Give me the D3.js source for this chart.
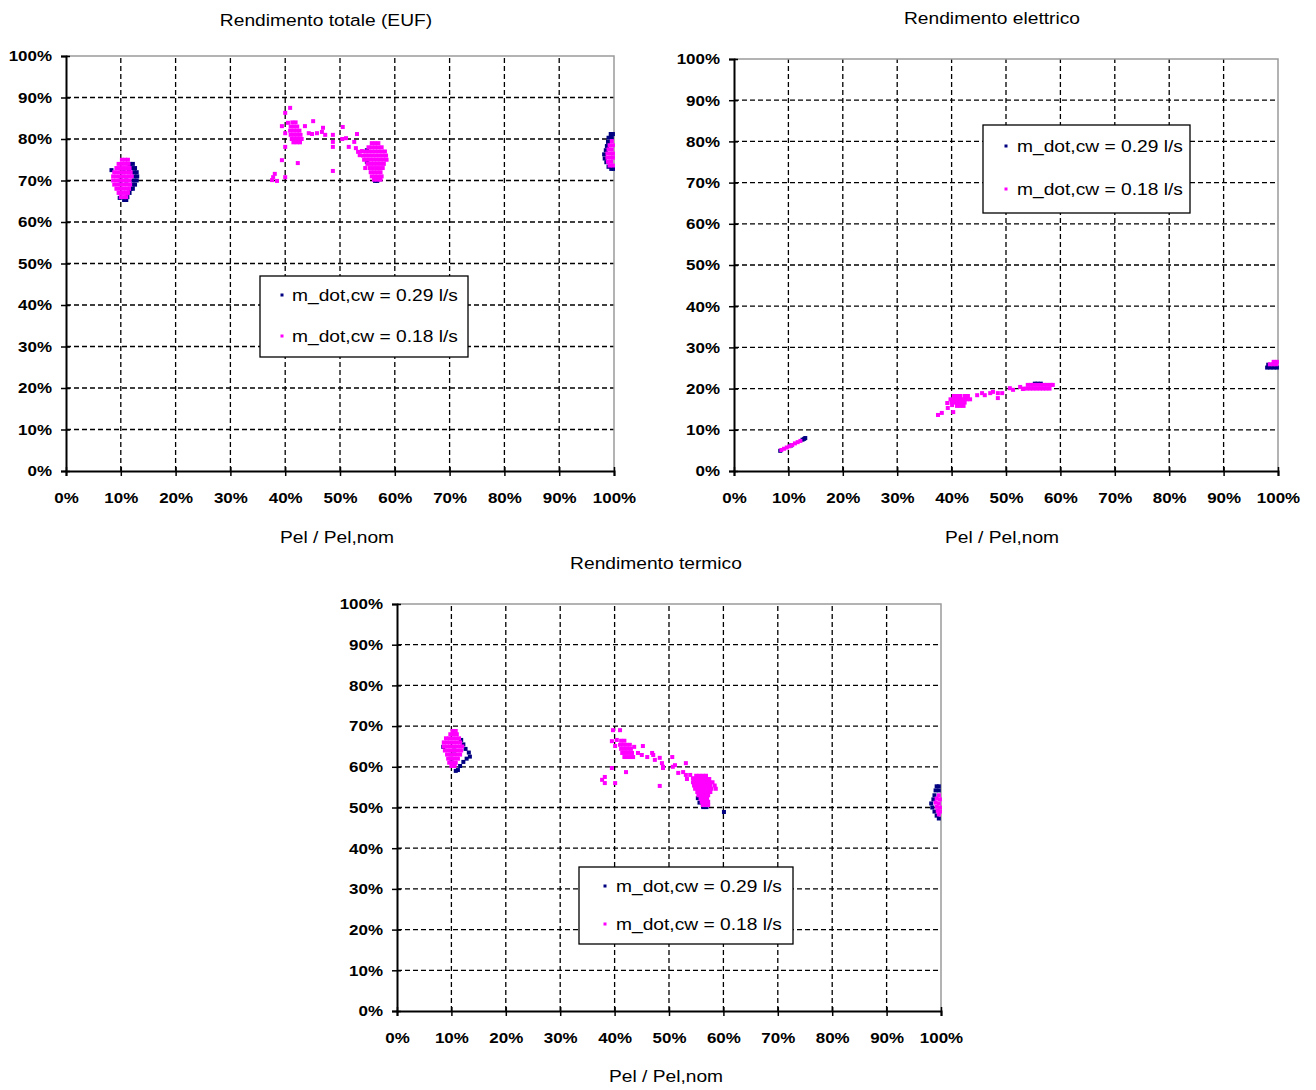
<!DOCTYPE html>
<html>
<head>
<meta charset="utf-8">
<script src="https://cdn.jsdelivr.net/npm/d3@7"></script>
<style>
  body { margin: 0; background: #fff; }
  svg text { font-family: "Liberation Sans", Arial, sans-serif; fill: #000; }
</style>
</head>
<body>
<svg id="chart" width="1316" height="1090"></svg>
<script>
// Axis ticks (percent)
const xTickValues = [0, 10, 20, 30, 40, 50, 60, 70, 80, 90, 100];
const yTickValues = [0, 10, 20, 30, 40, 50, 60, 70, 80, 90, 100];
const seriesNames = ["m_dot,cw = 0.29 l/s", "m_dot,cw = 0.18 l/s"];
const seriesColors = ["#000080", "#ff00ff"];
const titles = ["Rendimento totale (EUF)", "Rendimento elettrico", "Rendimento termico"];
const xAxisTitle = "Pel / Pel,nom";

// Measured points, one row per efficiency level: [efficiency %, load % ...]
// Rendimento totale, m_dot,cw = 0.29 l/s
const eufHigh = [
  [74, 11.6, 12.2], [73, 12.0, 12.6], [72.5, 8.3], [72, 10.5, 11.5, 12.4, 12.9], [71, 12.5, 13.0],
  [70, 10.0, 11.0, 12.3, 12.9], [69, 12.2, 12.6], [68, 11.8, 12.2], [67, 11.6], [66, 11.2],
  [65.8, 9.8], [65.3, 10.6, 11.0],
  [77.3, 54.9], [74.5, 54.9], [69.9, 56.4, 56.8],
  [81.2, 99.4, 99.8], [80.3, 99.0, 99.6], [79.3, 98.9], [78.3, 98.7], [77.3, 98.5], [76.3, 98.2],
  [75.3, 98.3], [74.4, 98.6], [73.3, 99.0], [72.8, 99.5, 99.9]
];
// Rendimento totale, m_dot,cw = 0.18 l/s
const eufLow = [
  [75, 10.2, 10.8, 11.3], [74, 9.6, 10.2, 10.8, 11.4], [73, 9.2, 9.8, 10.4, 11.0, 11.6],
  [72, 8.8, 9.4, 10.0, 10.6, 11.2, 11.8], [71, 8.6, 9.2, 9.8, 10.4, 11.0, 11.6, 12.0],
  [70, 8.6, 9.2, 9.8, 10.4, 11.0, 11.6], [69, 8.8, 9.4, 10.0, 10.6, 11.2, 11.7],
  [68, 9.2, 9.8, 10.4, 11.0, 11.5], [67, 9.6, 10.2, 10.8, 11.3], [66, 10.0, 10.6, 11.0],
  [84, 41.3, 41.9], [83, 41.0, 41.6, 42.2], [82, 40.9, 41.5, 42.1, 42.6], [81, 41.0, 41.6, 42.2, 42.8],
  [80, 41.2, 41.8, 42.4, 43.0], [79.2, 41.5, 42.1, 42.7],
  [87.5, 40.9], [86.3, 40.0], [83.9, 40.5], [83.1, 39.4, 43.6], [84.3, 45.1], [81.4, 40.0, 44.3, 45.8],
  [81.2, 44.9, 53.1], [81.7, 46.7], [81.0, 47.3, 48.7], [82.7, 46.9], [79.3, 48.7, 52.6],
  [78.1, 40.0, 48.7, 51.6], [82.9, 50.5], [80.2, 51.1], [80.0, 50.4], [77.8, 52.9], [76.9, 53.3],
  [77.1, 54.0], [76.1, 53.6], [73.0, 54.6], [72.3, 48.7], [74.2, 42.3], [74.9, 39.4],
  [70.8, 37.8, 40.0], [71.6, 38.1], [70.1, 37.6], [69.9, 38.5],
  [79, 55.8, 56.4, 57.0], [78, 55.2, 55.8, 56.4, 57.0, 57.6], [77, 54.6, 55.2, 55.8, 56.4, 57.0, 57.6, 58.2],
  [76, 54.2, 54.8, 55.4, 56.0, 56.6, 57.2, 57.8, 58.4], [75, 54.4, 55.0, 55.6, 56.2, 56.8, 57.4, 58.0, 58.5],
  [74, 55.0, 55.6, 56.2, 56.8, 57.4, 58.0], [73, 55.4, 56.0, 56.6, 57.2, 57.8], [72, 55.6, 56.2, 56.8, 57.4],
  [71, 55.8, 56.4, 57.0, 57.6], [70.2, 56.2, 56.8, 57.4],
  [79.5, 99.6], [78.5, 99.2, 99.8], [77.5, 99.0, 99.6], [76.5, 98.8, 99.4, 99.8], [75.5, 98.8, 99.4, 99.8],
  [74.5, 98.9, 99.5], [73.6, 99.2, 99.8]
];
// Rendimento elettrico, m_dot,cw = 0.29 l/s
const elHigh = [
  [4.9, 8.5], [6.2, 10.5], [7.6, 12.6], [7.8, 12.9], [8.0, 13.1],
  [21.2, 55.3, 55.8, 56.4],
  [25.1, 98.0, 98.6, 99.2, 99.8], [25.8, 98.2]
];
// Rendimento elettrico, m_dot,cw = 0.18 l/s
const elLow = [
  [5.1, 8.7], [5.4, 9.2], [5.7, 9.7], [6.0, 10.2], [6.3, 10.7], [6.7, 11.2], [7.0, 11.7], [7.3, 12.2],
  [13.6, 37.5], [14.1, 38.2], [15.3, 39.3], [16.5, 39.2], [14.3, 40.3], [16.0, 40.1],
  [18.2, 40.4, 41.0, 41.6, 42.4, 43.0], [17.4, 39.8, 40.4, 41.0, 41.6, 42.2, 42.8, 43.4],
  [16.6, 40.0, 40.6, 41.2, 41.8, 42.4], [15.8, 41.0, 41.6, 42.2],
  [18.4, 44.7, 46.1], [18.9, 45.6, 47.1, 48.5, 49.3], [19.2, 47.6], [17.7, 48.5],
  [20.1, 50.7], [19.7, 51.3], [20.4, 52.6], [19.9, 53.1],
  [20.9, 54.0, 54.6, 55.2, 55.8, 56.4, 57.0, 57.6, 58.2, 58.6],
  [20.0, 53.2, 53.8, 54.4, 55.0, 55.6, 56.2, 56.8, 57.4, 58.0],
  [26.5, 99.2, 99.8], [25.9, 98.5, 99.1, 99.7]
];
// Rendimento termico, m_dot,cw = 0.29 l/s
const thHigh = [
  [66.6, 11.8], [65.5, 12.2], [64.9, 8.5], [64.4, 12.6], [63.5, 13.2], [62.5, 13.4], [62.0, 12.8],
  [61.2, 12.2], [60.2, 11.6], [59.2, 11.2], [59.0, 10.8], [64, 10.5], [62, 10.0],
  [48.9, 60.1], [52.3, 55.3], [51.2, 55.6], [50.1, 56.3, 56.9],
  [55.2, 99.2, 99.6], [54.2, 99.0, 99.6], [53.0, 98.8], [52.0, 98.6], [51.0, 98.2], [50.0, 98.4],
  [49.0, 98.8], [48.0, 99.2], [47.3, 99.6]
];
// Rendimento termico, m_dot,cw = 0.18 l/s
const thLow = [
  [68.8, 10.2, 10.8], [68, 9.8, 10.4, 11.0], [67, 9.0, 9.6, 10.2, 10.8, 11.4],
  [66, 8.6, 9.2, 9.8, 10.4, 11.0, 11.6], [65, 8.6, 9.2, 9.8, 10.4, 11.0, 11.6, 12.0],
  [64, 8.8, 9.4, 10.0, 10.6, 11.2, 11.8], [63, 9.2, 9.8, 10.4, 11.0, 11.6], [62, 9.4, 10.0, 10.6, 11.2],
  [61, 9.6, 10.2, 10.8], [60.2, 10.0, 10.6],
  [66.4, 41.2, 41.8], [65.4, 41.0, 41.6, 42.2, 42.8], [64.4, 41.2, 41.8, 42.4, 43.0],
  [63.4, 41.4, 42.0, 42.6, 43.2], [62.4, 41.8, 42.4, 43.0, 43.4],
  [69.0, 39.7, 41.0], [66.3, 39.5], [66.6, 40.4], [65.1, 40.1, 45.2], [64.9, 43.6],
  [63.4, 44.3, 46.9], [62.9, 45.0, 47.1], [62.4, 46.0, 50.6], [61.7, 47.4], [62.2, 48.3],
  [60.9, 48.7, 53.1], [60.0, 48.9, 50.7], [59.7, 39.5, 48.9], [60.4, 51.1], [58.5, 51.7],
  [58.7, 42.1, 52.6], [58.0, 53.1, 53.9], [57.0, 53.3], [57.2, 54.4], [55.3, 48.3],
  [56.0, 38.2, 40.1], [56.8, 37.7], [57.5, 38.2],
  [57.8, 55.0, 55.6, 56.2, 56.8], [57.0, 54.6, 55.2, 55.8, 56.4, 57.0, 57.4],
  [56.2, 54.4, 55.0, 55.6, 56.2, 56.8, 57.4, 58.0], [55.4, 54.6, 55.2, 55.8, 56.4, 57.0, 57.6, 58.4],
  [54.6, 54.8, 55.4, 56.0, 56.6, 57.2, 57.8, 58.6], [53.8, 55.2, 55.8, 56.4, 57.0, 57.6],
  [53.0, 55.4, 56.0, 56.6, 57.2], [52.2, 55.8, 56.4, 57.0], [51.4, 56.0, 56.6, 57.2], [50.6, 56.2, 56.8, 57.2],
  [53.0, 99.6], [52.2, 99.2], [52.0, 99.8], [51.2, 99.0], [51.0, 99.6], [50.2, 99.2], [50.0, 99.8],
  [49.2, 99.4], [49.0, 99.8], [48.3, 99.6]
];

// Unpack rows into [load, efficiency] pairs
const toPoints = rows => rows.flatMap(([eff, ...loads]) => loads.map(l => [l, eff]));

const panels = [
  { title: titles[0], series: [eufHigh, eufLow],
    box: { l: 66, r: 614, t: 56, b: 471 }, titleAt: [326, 26], xLabelAt: [337, 543],
    legend: { x: 260, y: 276, w: 208, h: 81, rows: [295, 336], mx: 282, tx: 292 } },
  { title: titles[1], series: [elHigh, elLow],
    box: { l: 734, r: 1278, t: 59, b: 471 }, titleAt: [992, 24], xLabelAt: [1002, 543],
    legend: { x: 983, y: 125, w: 207, h: 88, rows: [146, 189], mx: 1006, tx: 1017 } },
  { title: titles[2], series: [thHigh, thLow],
    box: { l: 397, r: 941, t: 604, b: 1011 }, titleAt: [656, 569], xLabelAt: [666, 1082],
    legend: { x: 579, y: 867, w: 214, h: 77, rows: [886, 924], mx: 605, tx: 616 } }
];

const svg = d3.select("#chart");
const MS = 4;      // marker size
const SX = 1.13;   // horizontal text stretch

// text stretched horizontally around its anchor point
function label(parent, x, y, str, size, anchor, weight) {
  return parent.append("text")
    .attr("transform", `translate(${x},${y}) scale(${SX},1)`)
    .attr("text-anchor", anchor).attr("font-size", size)
    .attr("font-weight", weight || "normal").text(str);
}

panels.forEach((p, i) => {
  const g = svg.append("g");
  const x = d3.scaleLinear().domain([0, 100]).range([p.box.l, p.box.r]);
  const y = d3.scaleLinear().domain([0, 100]).range([p.box.b, p.box.t]);

  // dashed grid
  g.append("g").selectAll("line")
    .data(xTickValues.filter(v => v > 0 && v < 100)).join("line")
    .attr("x1", d => x(d)).attr("x2", d => x(d)).attr("y1", y(0)).attr("y2", y(100))
    .attr("stroke", "#000").attr("stroke-width", 1.3).attr("stroke-dasharray", "5,3");
  g.append("g").selectAll("line")
    .data(yTickValues.filter(v => v > 0 && v < 100)).join("line")
    .attr("x1", x(0)).attr("x2", x(100)).attr("y1", d => y(d)).attr("y2", d => y(d))
    .attr("stroke", "#000").attr("stroke-width", 1.3).attr("stroke-dasharray", "5,3");

  // grey top and right frame
  g.append("path")
    .attr("d", `M${x(0)},${y(100)}H${x(100)}V${y(0)}`)
    .attr("fill", "none").attr("stroke", "#9a9a9a").attr("stroke-width", 1.5);

  // clip to plot area
  const clipId = "clip" + i;
  svg.append("clipPath").attr("id", clipId).append("rect")
    .attr("x", x(0)).attr("y", y(100)).attr("width", x(100) - x(0) + 1).attr("height", y(0) - y(100));

  // markers
  const pg = g.append("g").attr("clip-path", `url(#${clipId})`);
  p.series.forEach((rows, s) => {
    pg.append("g").selectAll("rect").data(toPoints(rows)).join("rect")
      .attr("x", d => x(d[0]) - MS / 2).attr("y", d => y(d[1]) - MS / 2)
      .attr("width", MS).attr("height", MS)
      .attr("fill", seriesColors[s]);
  });

  // axes
  const yAxis = g.append("g").attr("transform", `translate(${x(0)},0)`)
    .call(d3.axisLeft(y).tickValues(yTickValues).tickSize(5).tickPadding(9).tickFormat(d => d + "%"));
  const xAxis = g.append("g").attr("transform", `translate(0,${y(0)})`)
    .call(d3.axisBottom(x).tickValues(xTickValues).tickSize(5).tickPadding(16).tickFormat(d => d + "%"));
  [yAxis, xAxis].forEach(a => {
    a.select(".domain").attr("stroke", "#000").attr("stroke-width", 2);
    a.selectAll(".tick line").attr("stroke", "#000").attr("stroke-width", 1.5);
    a.selectAll(".tick text").attr("font-size", 15).attr("font-weight", "bold")
      .attr("font-family", "Liberation Sans, Arial, sans-serif")
      .attr("transform", `scale(${SX},1)`);
  });
  yAxis.selectAll(".tick text").attr("x", -14 / SX);
  yAxis.selectAll(".tick line").attr("x1", 4);
  xAxis.selectAll(".tick line").attr("y1", -4);

  // titles
  label(g, p.titleAt[0], p.titleAt[1], p.title, 17, "middle");
  label(g, p.xLabelAt[0], p.xLabelAt[1], xAxisTitle, 17, "middle");

  // legend
  const L = p.legend;
  g.append("rect").attr("x", L.x).attr("y", L.y).attr("width", L.w).attr("height", L.h)
    .attr("fill", "#fff").attr("stroke", "#000").attr("stroke-width", 1.3);
  seriesNames.forEach((name, s) => {
    g.append("rect").attr("x", L.mx - 1.5).attr("y", L.rows[s] - 1.5).attr("width", 3).attr("height", 3)
      .attr("fill", seriesColors[s]);
    label(g, L.tx, L.rows[s] + 6, name, 17, "start");
  });
});
</script>
</body>
</html>
